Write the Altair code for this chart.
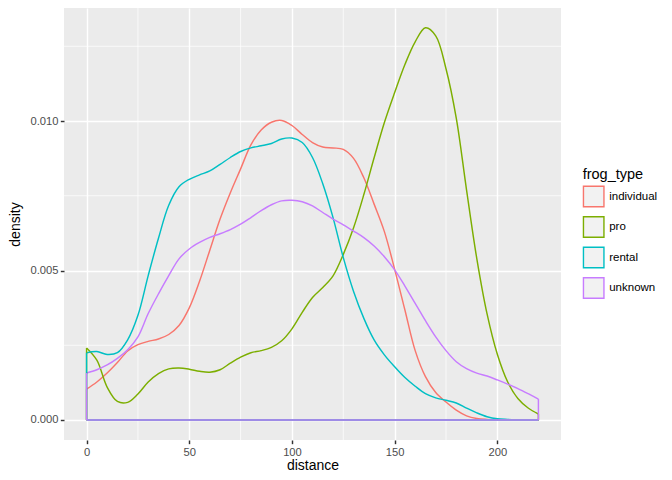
import altair as alt
import pandas as pd

distance = list(range(0, 221, 5))

individual = [0.00103, 0.00127, 0.00157, 0.00192, 0.00231, 0.00252, 0.00263, 0.00271, 0.00286, 0.00316,
              0.00375, 0.00464, 0.00568, 0.00672, 0.00760, 0.00840, 0.00920, 0.00970, 0.00996, 0.01002,
              0.00985, 0.00955, 0.00928, 0.00913, 0.00910, 0.00905, 0.00875, 0.00810, 0.00722, 0.00630,
              0.00504, 0.00368, 0.00232, 0.00145, 0.00092, 0.00060, 0.00033, 0.00014, 0.00005, 0.00002,
              0.00001, 0.000005, 0.000002, 0.000001, 0.0]
pro = [0.00241, 0.00200, 0.00110, 0.00062, 0.00059, 0.00087, 0.00127, 0.00155, 0.00171, 0.00174,
       0.00170, 0.00163, 0.00160, 0.00168, 0.00190, 0.00210, 0.00225, 0.00232, 0.00243, 0.00265,
       0.00305, 0.00360, 0.00410, 0.00443, 0.00482, 0.00554, 0.00643, 0.00754, 0.00877, 0.00995,
       0.01095, 0.01189, 0.01265, 0.01312, 0.01285, 0.01175, 0.01010, 0.00770, 0.00540, 0.00355,
       0.00220, 0.00128, 0.00072, 0.00040, 0.00020]
rental = [0.00225, 0.00229, 0.00219, 0.00225, 0.00268, 0.00350, 0.00483, 0.00608, 0.00718, 0.00780,
          0.00805, 0.00820, 0.00833, 0.00855, 0.00878, 0.00898, 0.00910, 0.00917, 0.00925, 0.00940,
          0.00943, 0.00928, 0.00878, 0.00790, 0.00677, 0.00543, 0.00430, 0.00340, 0.00268, 0.00218,
          0.00178, 0.00142, 0.00113, 0.00088, 0.00074, 0.00066, 0.00057, 0.00040, 0.00024, 0.00011,
          0.00004, 0.00002, 0.00001, 0.000004, 0.000002]
unknown = [0.00157, 0.00168, 0.00184, 0.00206, 0.00235, 0.00278, 0.00356, 0.00422, 0.00483, 0.00539,
           0.00572, 0.00594, 0.00611, 0.00623, 0.00637, 0.00655, 0.00677, 0.00700, 0.00720, 0.00733,
           0.00735, 0.00730, 0.00716, 0.00694, 0.00672, 0.00653, 0.00632, 0.00610, 0.00582, 0.00546,
           0.00502, 0.00448, 0.00390, 0.00332, 0.00278, 0.00232, 0.00195, 0.00172, 0.00157, 0.00147,
           0.00134, 0.00120, 0.00105, 0.00088, 0.00070]

groups = ["individual", "pro", "rental", "unknown"]
colors = ["#F8766D", "#7CAE00", "#00BFC4", "#C77CFF"]
series = [individual, pro, rental, unknown]

x_ticks = [0, 50, 100, 150, 200]
y_ticks = [0.0, 0.005, 0.010]
x_minor = [25, 75, 125, 175]
y_minor = [0.0025, 0.0075, 0.0125]

rows = []
for g, vals in zip(groups, series):
    for d, v in zip(distance, vals):
        rows.append({"distance": d, "density": v, "frog_type": g})
curves = pd.DataFrame(rows)

edges = []
x0, x1 = distance[0], distance[-1]
for g, vals in zip(groups, series):
    edges.append({"x": x0, "x2": x0, "y": 0.0, "y2": vals[0], "frog_type": g})
    edges.append({"x": x1, "x2": x1, "y": 0.0, "y2": vals[-1], "frog_type": g})
    edges.append({"x": x0, "x2": x1, "y": 0.0, "y2": 0.0, "frog_type": g})
edges = pd.DataFrame(edges)

xs = alt.Scale(domain=[-11, 231], nice=False, zero=False)
ys = alt.Scale(domain=[-0.000669, 0.01378], nice=False, zero=False)
cs = alt.Scale(domain=groups, range=colors)

minor_x = alt.Chart(pd.DataFrame({"v": x_minor})).mark_rule(color="white", strokeWidth=0.72).encode(
    x=alt.X("v:Q", scale=xs))
minor_y = alt.Chart(pd.DataFrame({"v": y_minor})).mark_rule(color="white", strokeWidth=0.72).encode(
    y=alt.Y("v:Q", scale=ys))

legend = alt.Legend(title="frog_type", orient="none", legendX=518.7, legendY=160,
                    symbolType="square", symbolSize=420, symbolStrokeWidth=1.4,
                    symbolFillColor="#F2F2F2", rowPadding=2.5, labelOffset=4.5,
                    titlePadding=3, labelFontSize=11.5, titleFontSize=14.5,
                    labelFont="Liberation Sans", titleFont="Liberation Sans",
                    labelColor="black", titleColor="black", titleFontWeight="normal")

lines = alt.Chart(curves).mark_line(interpolate="catmull-rom", strokeWidth=1.45).encode(
    x=alt.X("distance:Q", scale=xs, title="distance",
            axis=alt.Axis(values=x_ticks, format="d", titleBaseline="alphabetic", titleY=29)),
    y=alt.Y("density:Q", scale=ys, title="density",
            axis=alt.Axis(values=y_ticks, format=".3f", titleBaseline="alphabetic", titleX=-44.5)),
    color=alt.Color("frog_type:N", scale=cs, legend=legend, sort=groups),
)

base = alt.Chart(edges).mark_rule(strokeWidth=1.45).encode(
    x=alt.X("x:Q", scale=xs),
    x2="x2:Q",
    y=alt.Y("y:Q", scale=ys),
    y2="y2:Q",
    color=alt.Color("frog_type:N", scale=cs, legend=legend, sort=groups),
)

chart = alt.layer(minor_x, minor_y, lines, base).properties(
    width=497, height=432,
    autosize=alt.AutoSizeParams(type="none"),
    padding={"left": 56, "top": 0, "right": 103, "bottom": 32},
).configure_view(
    fill="#EBEBEB", stroke=None
).configure_axis(
    domain=False, grid=True, gridColor="white", gridWidth=1.45,
    tickColor="#333333", tickWidth=1.45, tickSize=3.67,
    labelColor="#4D4D4D", labelFontSize=11.2, labelFont="Liberation Sans",
    labelPadding=2.4, titleFont="Liberation Sans", titleFontSize=14,
    titleColor="black", titleFontWeight="normal"
)

chart.save("out.html", embed_options={"renderer": "svg", "actions": False})
